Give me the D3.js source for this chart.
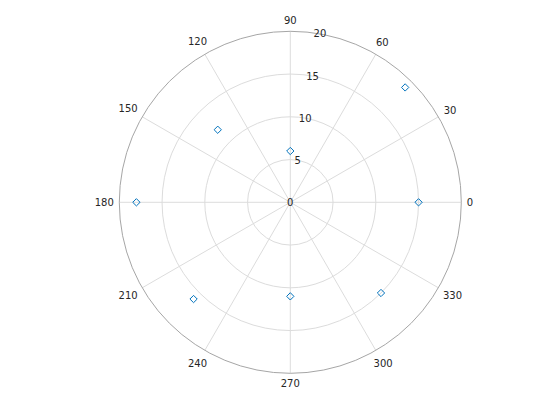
<!DOCTYPE html>
<html>
<head>
<meta charset="utf-8">
<script src="https://cdn.jsdelivr.net/npm/d3@7"></script>
<style>
  body { margin: 0; background: #fff; }
  text { font-family: "DejaVu Sans", sans-serif; font-size: 10px; fill: #262626; }
</style>
</head>
<body>
<div id="chart"></div>
<script>
// data
var thetaDeg = [0, 45, 90, 135, 180, 225, 270, 315];
var rValues = [15, 19, 6, 12, 18, 16, 11, 15];
var angleTicks = [0, 30, 60, 90, 120, 150, 180, 210, 240, 270, 300, 330];
var rTicks = [0, 5, 10, 15, 20];

var svgWidth = 560;
var svgHeight = 420;
var cx = 290.3;
var cy = 202.3;
var outerR = 171;

var svg = d3.select("#chart")
  .append("svg")
  .attr("width", svgWidth)
  .attr("height", svgHeight);

var chartGroup = svg.append("g")
  .attr("transform", `translate(${cx}, ${cy})`);

// radius scale
var rScale = d3.scaleLinear()
  .domain([0, 20])
  .range([0, outerR]);

function toRad(a) { return a * Math.PI / 180; }

// spokes
chartGroup.selectAll(".spoke")
  .data(angleTicks)
  .enter()
  .append("line")
  .attr("x1", 0)
  .attr("y1", 0)
  .attr("x2", d => rScale(20) * Math.cos(toRad(d)))
  .attr("y2", d => -rScale(20) * Math.sin(toRad(d)))
  .attr("stroke", "#dcdcdc")
  .attr("stroke-width", 1);

// rings
chartGroup.selectAll(".ring")
  .data(rTicks.filter(d => d > 0 && d < 20))
  .enter()
  .append("circle")
  .attr("r", d => rScale(d))
  .attr("fill", "none")
  .attr("stroke", "#dcdcdc")
  .attr("stroke-width", 1);

// outer edge
chartGroup.append("circle")
  .attr("r", rScale(20))
  .attr("fill", "none")
  .attr("stroke", "#a6a6a6")
  .attr("stroke-width", 1);

// angle labels, pushed out so the text box clears the edge
var gap = 5.5;
var textH = 10;
chartGroup.selectAll(".alabel")
  .data(angleTicks)
  .enter()
  .append("text")
  .attr("dy", "0.35em")
  .attr("text-anchor", "middle")
  .text(d => d)
  .each(function(d) {
    var w = this.getComputedTextLength();
    var c = Math.cos(toRad(d)), s = Math.sin(toRad(d));
    var rr = outerR + gap + Math.abs(c) * w / 2 + Math.abs(s) * textH / 2;
    d3.select(this)
      .attr("x", rr * c)
      .attr("y", -rr * s);
  });

// r tick labels along 80 degrees
var rAxisAngle = toRad(80);
chartGroup.selectAll(".rlabel")
  .data(rTicks)
  .enter()
  .append("text")
  .attr("x", d => rScale(d) * Math.cos(rAxisAngle))
  .attr("y", d => -rScale(d) * Math.sin(rAxisAngle))
  .attr("dy", "0.35em")
  .attr("text-anchor", "middle")
  .text(d => d);

// markers
var pts = thetaDeg.map((t, i) => ({ t: t, r: rValues[i] }));
chartGroup.selectAll(".pt")
  .data(pts)
  .enter()
  .append("path")
  .attr("d", d3.symbol().type(d3.symbolDiamond2).size(34))
  .attr("transform", d => `translate(${rScale(d.r) * Math.cos(toRad(d.t))}, ${-rScale(d.r) * Math.sin(toRad(d.t))})`)
  .attr("fill", "none")
  .attr("stroke", "#0072BD")
  .attr("stroke-width", 1);
</script>
</body>
</html>
